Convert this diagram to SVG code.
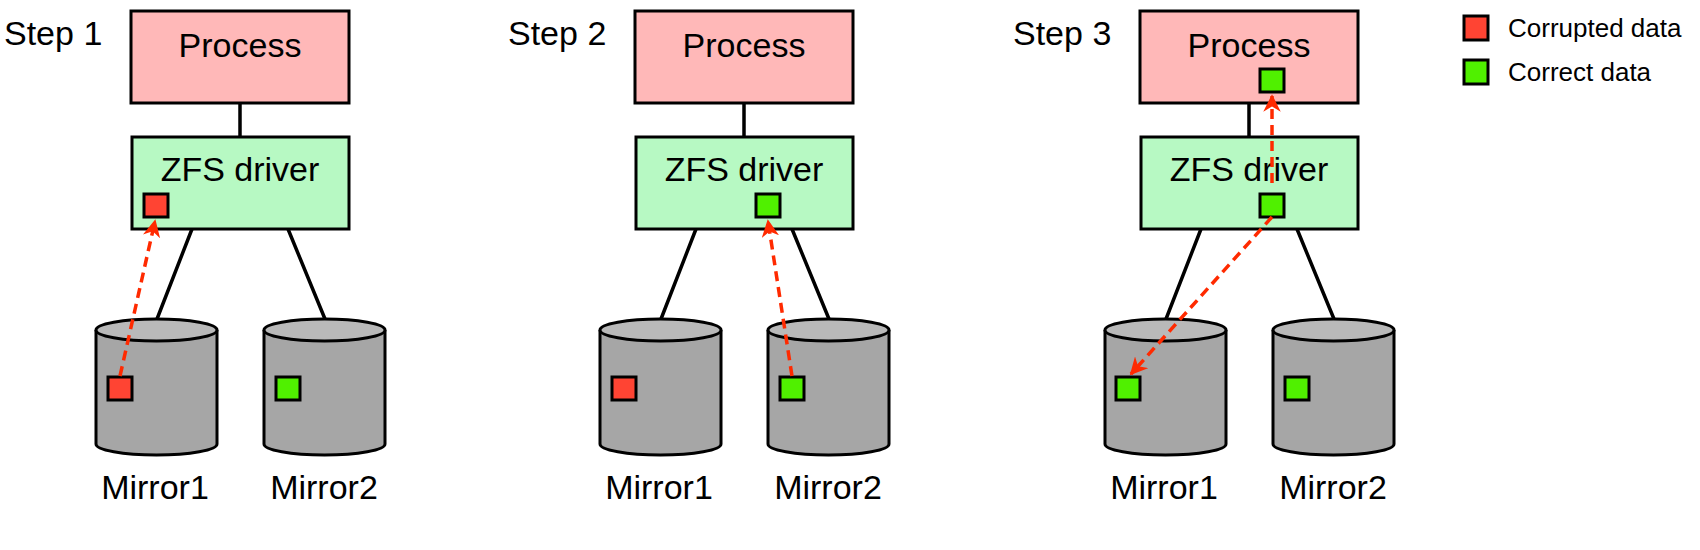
<svg xmlns="http://www.w3.org/2000/svg" width="1700" height="550" viewBox="0 0 1700 550">
<style>
text{font-family:"Liberation Sans",Arial,sans-serif;fill:#000}
.lbl{font-size:34px;text-anchor:middle}
.step{font-size:34px}
.proc{fill:#ffb8b8;stroke:#000;stroke-width:3}
.zfs{fill:#b7f9c3;stroke:#000;stroke-width:3}
.cyl{fill:#a6a6a6;stroke:#000;stroke-width:3}
.cylt{fill:#b9b9b9;stroke:#000;stroke-width:3}
.red{fill:#ff4433;stroke:#000;stroke-width:3}
.grn{fill:#50f000;stroke:#000;stroke-width:3}
.ln{stroke:#000;stroke-width:3.5;fill:none}
.arr{stroke:#ff2a00;stroke-width:3.5;stroke-dasharray:10,6;fill:none;marker-end:url(#ah)}
</style>
<defs>
<marker id="ah" viewBox="0 0 10 10" refX="9" refY="5" markerWidth="5" markerHeight="5" orient="auto" markerUnits="strokeWidth">
<path d="M0,0 L10,5 L0,10 L3,5 z" fill="#ff2a00"/>
</marker>
<g id="cyl">
<path class="cyl" d="M0,11 L0,125 A60.5,11 0 0 0 121,125 L121,11"/>
<ellipse class="cylt" cx="60.5" cy="11" rx="60.5" ry="11"/>
</g>
</defs>
<g id="legend">
<rect class="red" x="1464" y="16" width="24" height="24"/>
<text x="1508" y="37" font-size="26">Corrupted data</text>
<rect class="grn" x="1464" y="60" width="24" height="24"/>
<text x="1508" y="81" font-size="26">Correct data</text>
</g>
<g id="step1">
<g id="connectors1"><path class="ln" d="M240,103 V137 M192,229 L157,319 M288,229 L325,319"/></g>
<text class="step" x="4" y="45">Step 1</text>
<g id="process1"><rect class="proc" x="131" y="11" width="218" height="92"/><text class="lbl" x="240" y="57">Process</text></g>
<g id="zfs1"><rect class="zfs" x="132" y="137" width="217" height="92"/><text class="lbl" x="240" y="181">ZFS driver</text><rect class="red" x="144" y="194" width="24" height="23"/></g>
<g id="m1a"><use href="#cyl" x="96" y="319"/><rect class="red" x="108" y="377" width="24" height="23"/><text class="lbl" x="155" y="499">Mirror1</text></g>
<g id="m2a"><use href="#cyl" x="264" y="319"/><rect class="grn" x="276" y="377" width="24" height="23"/><text class="lbl" x="324" y="499">Mirror2</text></g>
<g id="arrows1"><path class="arr" d="M120,376 L155,221"/></g>
</g>
<g id="step2" transform="translate(504,0)">
<g id="connectors2"><path class="ln" d="M240,103 V137 M192,229 L157,319 M288,229 L325,319"/></g>
<text class="step" x="4" y="45">Step 2</text>
<g id="process2"><rect class="proc" x="131" y="11" width="218" height="92"/><text class="lbl" x="240" y="57">Process</text></g>
<g id="zfs2"><rect class="zfs" x="132" y="137" width="217" height="92"/><text class="lbl" x="240" y="181">ZFS driver</text><rect class="grn" x="252" y="194" width="24" height="23"/></g>
<g id="m1b"><use href="#cyl" x="96" y="319"/><rect class="red" x="108" y="377" width="24" height="23"/><text class="lbl" x="155" y="499">Mirror1</text></g>
<g id="m2b"><use href="#cyl" x="264" y="319"/><rect class="grn" x="276" y="377" width="24" height="23"/><text class="lbl" x="324" y="499">Mirror2</text></g>
<g id="arrows2"><path class="arr" d="M288,376 L264,221"/></g>
</g>
<g id="step3" transform="translate(1009,0)">
<g id="connectors3"><path class="ln" d="M240,103 V137 M192,229 L157,319 M288,229 L325,319"/></g>
<text class="step" x="4" y="45">Step 3</text>
<g id="process3"><rect class="proc" x="131" y="11" width="218" height="92"/><text class="lbl" x="240" y="57">Process</text><rect class="grn" x="251" y="69" width="24" height="23"/></g>
<g id="zfs3"><rect class="zfs" x="132" y="137" width="217" height="92"/><text class="lbl" x="240" y="181">ZFS driver</text><rect class="grn" x="251" y="194" width="24" height="23"/></g>
<g id="m1c"><use href="#cyl" x="96" y="319"/><rect class="grn" x="107" y="377" width="24" height="23"/><text class="lbl" x="155" y="499">Mirror1</text></g>
<g id="m2c"><use href="#cyl" x="264" y="319"/><rect class="grn" x="276" y="377" width="24" height="23"/><text class="lbl" x="324" y="499">Mirror2</text></g>
<g id="arrows3"><path class="arr" d="M263,183 L263,96"/><path class="arr" d="M263,217 L122,374"/></g>
</g>
</svg>
